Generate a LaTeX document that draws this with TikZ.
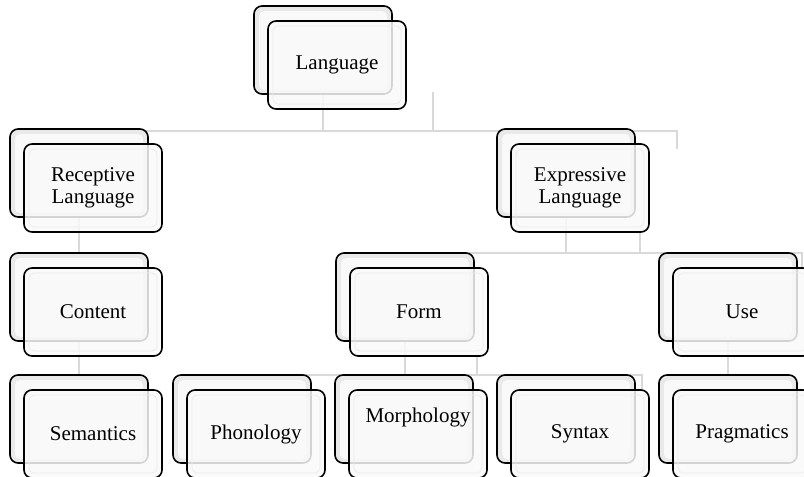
\documentclass[tikz,border=0pt]{standalone}
\usepackage{fontspec}
\setmainfont{Liberation Serif}
\usetikzlibrary{backgrounds}

\tikzset{
  backbox/.style={draw=black, line width=1.6pt, rounded corners=8pt,
    minimum width=138pt, minimum height=88pt, fill=gray!17,
    path picture={\fill[gray!5, rounded corners=5pt]
      ([shift={(5pt,4pt)}]path picture bounding box.south west) rectangle
      ([shift={(-5pt,-5pt)}]path picture bounding box.north east);}},
  frontbox/.style={draw=black, line width=1.6pt, rounded corners=8pt,
    minimum width=138pt, minimum height=88pt, fill=gray!5,
    fill opacity=0.85, text opacity=1, align=center,
    path picture={\draw[gray!15, line width=0.8pt, rounded corners=5pt]
      ([shift={(5pt,5pt)}]path picture bounding box.south west) rectangle
      ([shift={(-5pt,-5pt)}]path picture bounding box.north east);}},
  link/.style={draw=gray!30, line width=2.2pt}
}

\begin{document}
\begin{tikzpicture}[x=1pt, y=-1pt, font=\fontsize{21}{22}\selectfont]

\useasboundingbox (0,0) rectangle (804,477);
\clip (0,0) rectangle (804,477);

% Root
\node[backbox]  (lang-b) at (323,50)  {};
\node[frontbox] (lang)   at (337,65)  {Language};

% Second row
\node[backbox]  (rec-b) at (79,173)  {};
\node[frontbox] (rec)   at (93,188)  {Receptive\\Language};
\node[backbox]  (exp-b) at (566,173) {};
\node[frontbox] (exp)   at (580,188) {Expressive\\Language};

% Third row
\node[backbox]  (cont-b) at (79,297)  {};
\node[frontbox] (cont)   at (93,312)  {Content};
\node[backbox]  (form-b) at (405,297) {};
\node[frontbox] (form)   at (419,312) {Form};
\node[backbox]  (use-b)  at (728,297) {};
\node[frontbox] (use)    at (742,312) {Use};

% Bottom row
\node[backbox]  (sem-b)   at (79,419)  {};
\node[frontbox] (sem)     at (93,434)  {Semantics};
\node[backbox]  (phon-b)  at (242,419) {};
\node[frontbox] (phon)    at (256,434) {Phonology};
\node[backbox]  (morph-b) at (404,419) {};
\node[frontbox, label={[yshift=17pt]center:Morphology}] (morph) at (418,434) {};
\node[backbox]  (syn-b)   at (566,419) {};
\node[frontbox] (syn)     at (580,434) {Syntax};
\node[backbox]  (prag-b)  at (728,419) {};
\node[frontbox] (prag)    at (742,434) {Pragmatics};

% Bus ends and stray stubs
\coordinate (bus-a)  at (677,131);
\coordinate (stub-a) at (433,92);
\coordinate (bus-b)  at (802,253);
\coordinate (stub-b) at (640,232);
\coordinate (bus-c)  at (642,375);
\coordinate (stub-c) at (477,355);

\begin{pgfonlayer}{background}
% Language to its children
\draw[link] (rec-b.center |- bus-a) -- (bus-a) -- ++(0,18);
\draw[link] (lang-b.south) -- (lang-b.south |- bus-a);
\draw[link] (stub-a) -- (stub-a |- bus-a);

% Receptive branch
\draw[link] (rec-b.south) -- (cont-b.north);
\draw[link] (cont-b.south) -- (sem-b.north);

% Expressive branch
\draw[link] (form-b.center |- bus-b) -- (bus-b) -- ++(0,17);
\draw[link] (exp-b.south) -- (exp-b.south |- bus-b);
\draw[link] (stub-b) -- (stub-b |- bus-b);

% Form branch
\draw[link] (phon-b.center |- bus-c) -- (bus-c) -- ++(0,17);
\draw[link] (form-b.south) -- (form-b.south |- bus-c);
\draw[link] (stub-c) -- (stub-c |- bus-c);

% Use branch
\draw[link] (use-b.south) -- (prag-b.north);
\end{pgfonlayer}

\end{tikzpicture}
\end{document}
